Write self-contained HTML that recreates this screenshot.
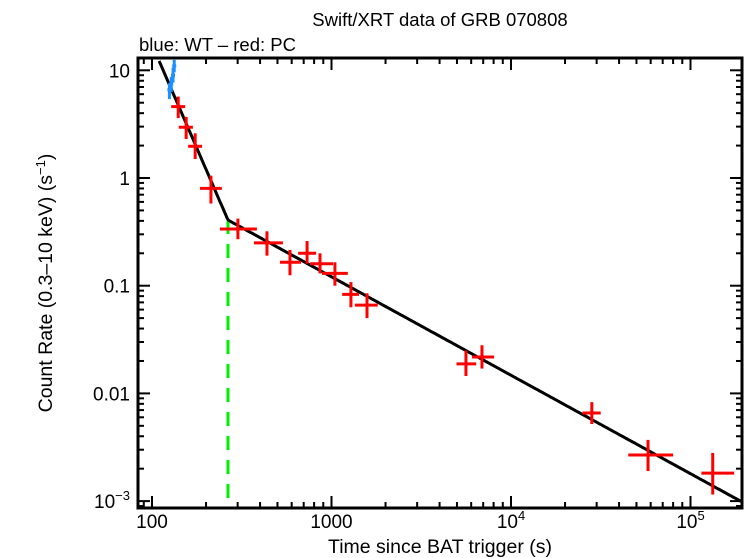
<!DOCTYPE html>
<html><head><meta charset="utf-8"><style>
html,body{margin:0;padding:0;background:#fff;}
svg{display:block;font-family:"Liberation Sans",sans-serif;}
</style></head><body>
<svg id="chart" width="746" height="558" viewBox="0 0 746 558" xmlns="http://www.w3.org/2000/svg">
<text x="440" y="26" font-size="18.5" text-anchor="middle">Swift/XRT data of GRB 070808</text>
<text x="139" y="51" font-size="18.5">blue: WT – red: PC</text>
<text x="440" y="553" font-size="19.5" text-anchor="middle">Time since BAT trigger (s)</text>
<text transform="translate(52,283) rotate(-90)" font-size="19.5" text-anchor="middle">Count Rate (0.3–10 keV) (s<tspan font-size="13" dy="-7">−1</tspan><tspan dy="7">)</tspan></text>
<g id="ticks"></g>
<g id="marks"></g>
<rect x="138" y="58" width="604" height="450" fill="none" stroke="#000" stroke-width="3"/>
</svg>
<script>
// PC (red) data
const pcTime = [140,155,174,213,301,437,587,731,863,1045,1283,1577,5610,6890,28200,58000,133000];
const pcTimeLo = [128,141,159,185,239,370,516,652,760,885,1146,1350,4970,6070,25000,45000,115000];
const pcTimeHi = [153,169,190,245,384,536,676,821,1020,1233,1423,1810,6400,8050,31600,80000,175000];
const pcRate = [4.6,2.96,1.97,0.8,0.336,0.25,0.165,0.2,0.16,0.13,0.083,0.066,0.0188,0.0218,0.00658,0.00268,0.00182];
const pcRateLo = [3.6,2.3,1.5,0.58,0.27,0.19,0.125,0.16,0.13,0.1,0.063,0.05,0.0145,0.017,0.0052,0.0019,0.00115];
const pcRateHi = [5.7,3.7,2.6,1.05,0.42,0.32,0.215,0.26,0.2,0.165,0.108,0.085,0.025,0.028,0.0083,0.0037,0.0028];
// WT (blue) data
const wtTime = [125,128,131,133];
const wtRate = [6.6,7.5,9.0,11.0];
const wtRateLo = [5.4,6.3,7.7,9.6];
const wtRateHi = [7.6,8.7,10.6,12.5];
// Model: broken power law
const breakTime = 265;
const breakRate = 0.407;
const alpha1 = 3.85;
const alpha2 = 0.914;
const xTickVals = [100,1000,10000,100000];
const xTickLabels = ["100","1000","10^4","10^5"];
const yTickVals = [10,1,0.1,0.01,0.001];
const yTickLabels = ["10","1","0.1","0.01","10^-3"];

const L=138,R=742,T=58,B=508;
function X(t){return 152+(Math.log10(t)-2)*179.5;}
function Y(r){return 178-Math.log10(r)*107.7;}
const NS="http://www.w3.org/2000/svg";
function mk(tag,attrs,parent){const e=document.createElementNS(NS,tag);for(const k in attrs)e.setAttribute(k,attrs[k]);parent.appendChild(e);return e;}
const ticks=document.getElementById('ticks'), marks=document.getElementById('marks');
function lbl(parent,x,y,s,anchor){
  const t=mk('text',{x:x,y:y,'font-size':19,'text-anchor':anchor},parent);
  if(s.indexOf('^')>=0){const p=s.split('^');t.textContent=p[0];const sp=mk('tspan',{'font-size':13,dy:-8},t);sp.textContent=p[1].replace('-','−');}
  else t.textContent=s;
  return t;
}
for(let d=1;d<=6;d++){for(let m=1;m<10;m++){const v=m*Math.pow(10,d);const x=X(v);if(x<L||x>R)continue;const len=m===1?12:6;
  const a=mk('line',{x1:x,x2:x,y1:B,y2:B-len,stroke:'#000','stroke-width':2},ticks);
  
  const b=mk('line',{x1:x,x2:x,y1:T,y2:T+len,stroke:'#000','stroke-width':2},ticks);
  }}
xTickVals.forEach((v,i)=>{const t=lbl(ticks,X(v),528,xTickLabels[i],'middle');
  });
for(let d=-4;d<=1;d++){for(let m=1;m<10;m++){const v=m*Math.pow(10,d);const y=Y(v);if(y<T||y>B)continue;const len=m===1?12:6;
  const a=mk('line',{x1:L,x2:L+len,y1:y,y2:y,stroke:'#000','stroke-width':2},ticks);
  
  const b=mk('line',{x1:R,x2:R-len,y1:y,y2:y,stroke:'#000','stroke-width':2},ticks);
  }}
yTickVals.forEach((v,i)=>{const t=lbl(ticks,130,Y(v)+7,yTickLabels[i],'end');
  });
const gl=mk('line',{x1:X(breakTime),x2:X(breakTime),y1:Y(breakRate),y2:B,stroke:'#00ee00','stroke-width':3,'stroke-dasharray':'14,10'},marks);

function model(t){return t<breakTime?breakRate*Math.pow(t/breakTime,-alpha1):breakRate*Math.pow(t/breakTime,-alpha2);}
const t0=Math.pow(10,(L-152)/179.5+2), t1=Math.pow(10,(R-152)/179.5+2);
let pts=[];
for(let i=0;i<=400;i++){const t=Math.pow(10,Math.log10(t0)+(Math.log10(t1)-Math.log10(t0))*i/400);let y=Y(model(t));if(y<T)continue;pts.push(X(t).toFixed(1)+','+Math.min(y,B).toFixed(1));}
const pl=mk('polyline',{points:pts.join(' '),fill:'none',stroke:'#000','stroke-width':3},marks);

wtTime.forEach((t,i)=>{const g=mk('g',{stroke:'#1e8fff','stroke-width':3},marks);
  
  mk('line',{x1:X(t),x2:X(t),y1:Y(wtRateLo[i]),y2:Y(wtRateHi[i])},g);
  mk('line',{x1:X(t)-2,x2:X(t)+2,y1:Y(wtRate[i]),y2:Y(wtRate[i])},g);});
pcTime.forEach((t,i)=>{const g=mk('g',{stroke:'#ff0000','stroke-width':3},marks);
  
  mk('line',{x1:X(t),x2:X(t),y1:Y(pcRateLo[i]),y2:Y(pcRateHi[i])},g);
  mk('line',{x1:X(pcTimeLo[i]),x2:X(pcTimeHi[i]),y1:Y(pcRate[i]),y2:Y(pcRate[i])},g);});
</script>
</body></html>
